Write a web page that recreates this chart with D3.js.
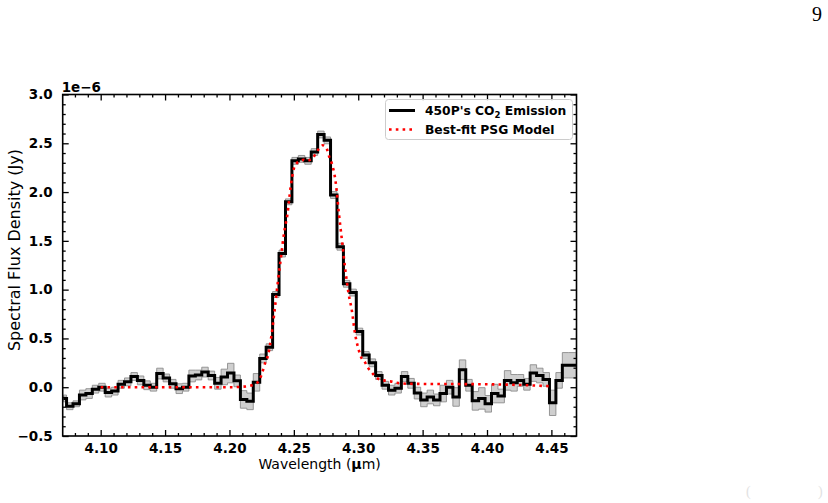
<!DOCTYPE html>
<html>
<head>
<meta charset="utf-8">
<script src="https://cdn.jsdelivr.net/npm/d3@7"></script>
<style>
  html, body { margin: 0; padding: 0; background: #fff; }
  svg { display: block; }
</style>
</head>
<body>
<svg id="chart" width="828" height="503" style="font-family: 'DejaVu Sans', sans-serif;"></svg>
<script>
// ---------- data (flux in units of 1e-6 Jy) ----------
const wavelengths = [4.071, 4.076, 4.081, 4.086, 4.091, 4.096, 4.101, 4.106, 4.111, 4.116,
  4.121, 4.126, 4.131, 4.136, 4.141, 4.146, 4.151, 4.156, 4.161, 4.166,
  4.171, 4.176, 4.181, 4.186, 4.191, 4.196, 4.201, 4.206, 4.211, 4.216,
  4.221, 4.226, 4.231, 4.236, 4.241, 4.246, 4.251, 4.256, 4.261, 4.266,
  4.271, 4.276, 4.281, 4.286, 4.291, 4.296, 4.301, 4.306, 4.311, 4.316,
  4.321, 4.326, 4.331, 4.336, 4.341, 4.346, 4.351, 4.356, 4.361, 4.366,
  4.371, 4.376, 4.381, 4.386, 4.391, 4.396, 4.401, 4.406, 4.411, 4.416,
  4.421, 4.426, 4.431, 4.436, 4.441, 4.446, 4.451, 4.456, 4.461, 4.466, 4.471];
const fluxValues = [-0.115, -0.195, -0.17, -0.08, -0.065, -0.02, 0.0, -0.055, -0.04, 0.03,
  0.055, 0.11, 0.07, 0.02, 0.0, 0.14, 0.095, 0.035, -0.015, 0.0,
  0.115, 0.125, 0.155, 0.12, 0.04, 0.105, 0.145, 0.065, -0.125, -0.145,
  0.05, 0.295, 0.41, 0.95, 1.37, 1.90, 2.32, 2.34, 2.32, 2.41,
  2.59, 2.53, 1.97, 1.44, 1.06, 0.97, 0.57, 0.33, 0.25, 0.12,
  0.02, -0.03, -0.01, 0.11, 0.04, -0.06, -0.13, -0.10, -0.13, -0.065,
  0.0, -0.10, 0.18, 0.02, -0.14, -0.115, -0.17, -0.065, -0.09, 0.07,
  0.045, 0.07, 0.03, 0.145, 0.12, 0.08, -0.16, 0.07, 0.225, 0.225, 0.225];
const fluxErrors = [0.035, 0.035, 0.03, 0.05, 0.05, 0.04, 0.04, 0.045, 0.04, 0.04,
  0.04, 0.04, 0.045, 0.045, 0.04, 0.055, 0.04, 0.045, 0.05, 0.04,
  0.06, 0.05, 0.05, 0.045, 0.06, 0.08, 0.1, 0.06, 0.09, 0.085,
  0.09, 0.045, 0.035, 0.03, 0.035, 0.03, 0.035, 0.035, 0.035, 0.035,
  0.035, 0.035, 0.035, 0.035, 0.035, 0.035, 0.035, 0.035, 0.04, 0.04,
  0.04, 0.05, 0.05, 0.05, 0.05, 0.06, 0.07, 0.07, 0.06, 0.085,
  0.07, 0.095, 0.1, 0.06, 0.095, 0.11, 0.085, 0.095, 0.07, 0.1,
  0.085, 0.06, 0.06, 0.085, 0.075, 0.07, 0.13, 0.08, 0.13, 0.13, 0.13];

const modelWavelengths = [4.100, 4.150, 4.200, 4.210, 4.215, 4.220, 4.2225, 4.225, 4.2275, 4.230,
  4.2325, 4.235, 4.2375, 4.240, 4.2425, 4.245, 4.2475, 4.250, 4.2525, 4.255,
  4.2575, 4.260, 4.2625, 4.265, 4.2675, 4.270, 4.2725, 4.275, 4.2775, 4.280,
  4.2825, 4.285, 4.2875, 4.290, 4.2925, 4.295, 4.2975, 4.300, 4.3025, 4.305,
  4.3075, 4.310, 4.315, 4.320, 4.325, 4.330, 4.340, 4.400, 4.420, 4.450];
const modelValues = [0.0, 0.0, 0.0, 0.005, 0.012, 0.035, 0.06, 0.13, 0.24, 0.33,
  0.52, 0.78, 1.07, 1.33, 1.59, 1.77, 2.05, 2.24, 2.30, 2.32,
  2.33, 2.32, 2.33, 2.35, 2.41, 2.45, 2.48, 2.46, 2.36, 2.27,
  2.10, 1.78, 1.49, 1.20, 0.96, 0.79, 0.55, 0.40, 0.30, 0.26,
  0.20, 0.16, 0.09, 0.07, 0.06, 0.045, 0.035, 0.03, 0.025, 0.01];

const xTicks = [4.10, 4.15, 4.20, 4.25, 4.30, 4.35, 4.40, 4.45];
const yTicks = [-0.5, 0.0, 0.5, 1.0, 1.5, 2.0, 2.5, 3.0];
const xDomain = [4.0705, 4.4695];
const yDomain = [-0.5, 3.0];

// ---------- layout ----------
const svg = d3.select("#chart");
const L = 62.7, R = 576.5, T = 94.5, B = 436;
const x = d3.scaleLinear().domain(xDomain).range([L, R]);
const y = d3.scaleLinear().domain(yDomain).range([B, T]);

svg.append("rect").attr("width", 828).attr("height", 503).attr("fill", "#fff");

svg.append("defs").append("clipPath").attr("id", "clip")
  .append("rect").attr("x", L).attr("y", T).attr("width", R - L).attr("height", B - T);

const data = wavelengths.map((w, i) => ({ w, f: fluxValues[i], e: fluxErrors[i] }));
const model = modelWavelengths.map((w, i) => ({ w, f: modelValues[i] }));

const plot = svg.append("g").attr("clip-path", "url(#clip)");

plot.append("path")
  .datum(data)
  .attr("d", d3.area().curve(d3.curveStep)
    .x(d => x(d.w)).y0(d => y(d.f - d.e)).y1(d => y(d.f + d.e)))
  .attr("fill", "#cfcfcf")
  .attr("stroke", "#8c8c8c")
  .attr("stroke-width", 0.9);

plot.append("path")
  .datum(data)
  .attr("d", d3.line().curve(d3.curveStep).x(d => x(d.w)).y(d => y(d.f)))
  .attr("fill", "none")
  .attr("stroke", "#000")
  .attr("stroke-width", 3)
  .attr("stroke-linejoin", "miter");

plot.append("path")
  .datum(model)
  .attr("d", d3.line().curve(d3.curveMonotoneX).x(d => x(d.w)).y(d => y(d.f)))
  .attr("fill", "none")
  .attr("stroke", "#ff0000")
  .attr("stroke-width", 2.6)
  .attr("stroke-dasharray", "2.6,4.2");

// ---------- axes ----------
const xMinor = d3.range(4.07, 4.4701, 0.01).map(v => +v.toFixed(2)).filter(v => !xTicks.some(t => Math.abs(t - v) < 1e-6) && v >= xDomain[0] && v <= xDomain[1]);
const yMinor = d3.range(-0.5, 3.0001, 0.1).map(v => +v.toFixed(1)).filter(v => !yTicks.some(t => Math.abs(t - v) < 1e-6));

function styleAxis(g) {
  g.select(".domain").remove();
  g.selectAll(".tick line").attr("stroke", "#000").attr("stroke-width", 1.3);
  g.selectAll("text").attr("font-family", null).style("font-family", "'DejaVu Sans', sans-serif")
    .attr("font-weight", "bold").attr("font-size", 13.5).attr("fill", "#000");
}

svg.append("g").attr("transform", `translate(0,${B})`)
  .call(d3.axisBottom(x).tickValues(xTicks).tickSize(-6).tickPadding(7).tickFormat(d3.format(".2f")))
  .call(styleAxis);
svg.append("g").attr("transform", `translate(0,${B})`)
  .call(d3.axisBottom(x).tickValues(xMinor).tickSize(-3).tickFormat(""))
  .call(styleAxis);
svg.append("g").attr("transform", `translate(0,${T})`)
  .call(d3.axisTop(x).tickValues(xTicks).tickSize(-6).tickFormat(""))
  .call(styleAxis);
svg.append("g").attr("transform", `translate(0,${T})`)
  .call(d3.axisTop(x).tickValues(xMinor).tickSize(-3).tickFormat(""))
  .call(styleAxis);

svg.append("g").attr("transform", `translate(${L},0)`)
  .call(d3.axisLeft(y).tickValues(yTicks).tickSize(-6).tickPadding(10).tickFormat(d3.format(".1f")))
  .call(styleAxis);
svg.append("g").attr("transform", `translate(${L},0)`)
  .call(d3.axisLeft(y).tickValues(yMinor).tickSize(-3).tickFormat(""))
  .call(styleAxis);
svg.append("g").attr("transform", `translate(${R},0)`)
  .call(d3.axisRight(y).tickValues(yTicks).tickSize(-6).tickFormat(""))
  .call(styleAxis);
svg.append("g").attr("transform", `translate(${R},0)`)
  .call(d3.axisRight(y).tickValues(yMinor).tickSize(-3).tickFormat(""))
  .call(styleAxis);

// spines
svg.append("rect").attr("x", L).attr("y", T).attr("width", R - L).attr("height", B - T)
  .attr("fill", "none").attr("stroke", "#000").attr("stroke-width", 1.6);

// offset text
svg.append("text").attr("x", L - 1).attr("y", T - 3)
  .attr("font-weight", "bold").attr("font-size", 13.5).text("1e\u22126");

// axis labels
svg.append("text").attr("x", (L + R) / 2).attr("y", 468.5)
  .attr("text-anchor", "middle").attr("font-size", 14)
  .html('Wavelength (<tspan font-weight="bold">\u03bc</tspan>m)');
svg.append("text")
  .attr("transform", `translate(19.5,250) rotate(-90)`)
  .attr("text-anchor", "middle").attr("font-size", 16)
  .text("Spectral Flux Density (Jy)");

// legend
const lg = svg.append("g");
lg.append("rect").attr("x", 385.5).attr("y", 99.5).attr("width", 187).attr("height", 40)
  .attr("rx", 3).attr("fill", "#fff").attr("fill-opacity", 0.8)
  .attr("stroke", "#cccccc").attr("stroke-width", 1);
lg.append("line").attr("x1", 389).attr("x2", 415).attr("y1", 110.5).attr("y2", 110.5)
  .attr("stroke", "#000").attr("stroke-width", 3);
lg.append("line").attr("x1", 389).attr("x2", 415).attr("y1", 129.5).attr("y2", 129.5)
  .attr("stroke", "#ff0000").attr("stroke-width", 2.6).attr("stroke-dasharray", "2.6,4.2");
const t1 = lg.append("text").attr("x", 425).attr("y", 115).attr("font-weight", "bold").attr("font-size", 12.3);
t1.append("tspan").text("450P's CO");
t1.append("tspan").attr("font-size", 8.6).attr("dy", 2.8).text("2");
t1.append("tspan").attr("dy", -2.8).text(" Emission");
lg.append("text").attr("x", 425).attr("y", 134).attr("font-weight", "bold").attr("font-size", 12.3)
  .text("Best-fit PSG Model");

// page number and faint page text
svg.append("text").attr("x", 822).attr("y", 21).attr("text-anchor", "end")
  .style("font-family", "'Liberation Serif', serif").attr("font-size", 20).text("9");
svg.append("text").attr("x", 746).attr("y", 496)
  .style("font-family", "'Liberation Serif', serif").attr("font-size", 14).attr("fill", "#e2e2e2").text("(");
svg.append("text").attr("x", 818).attr("y", 496)
  .style("font-family", "'Liberation Serif', serif").attr("font-size", 14).attr("fill", "#e2e2e2").text(")");
</script>
</body>
</html>
